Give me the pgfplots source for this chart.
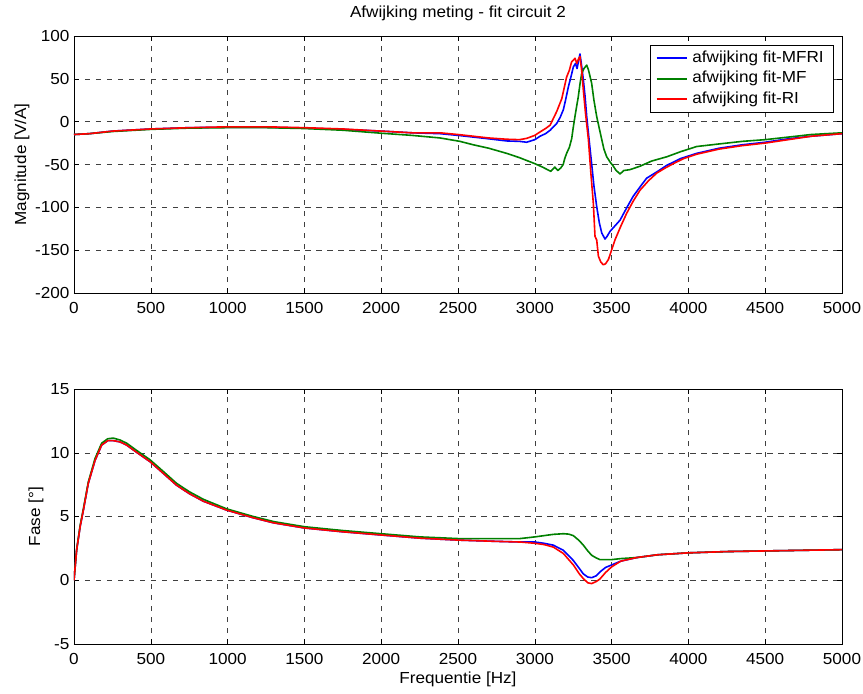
\documentclass[border=0pt]{standalone}
\usepackage{fontspec}
\setmainfont{Liberation Sans}[FakeStretch=1.07]
\usepackage{pgfplots}
\pgfplotsset{compat=1.18}
\definecolor{mblue}{rgb}{0,0,1}
\definecolor{mgreen}{rgb}{0,0.5,0}
\definecolor{mred}{rgb}{1,0,0}
\begin{document}
\fontsize{16}{18}\selectfont
\begin{tikzpicture}
\pgfplotsset{
  every axis/.append style={
    scale only axis, width=768pt,
    xmin=0, xmax=5000, xtick={0,500,...,5000},
    grid=major,
    major grid style={black!75, dash pattern=on 5.5pt off 5.5pt, line width=0.5pt},
    tick align=inside, major tick length=5pt,
    tick style={black, line width=0.5pt},
    axis line style={line width=0.6pt},
    /pgf/number format/assume math mode=true,
    /pgf/number format/1000 sep={},
    scaled x ticks=false, scaled y ticks=false,
    tick label style={font=\fontsize{16}{18}\selectfont},
    xticklabel style={yshift=-4pt},
    yticklabel style={xshift=1pt},
    label style={font=\fontsize{16}{18}\selectfont},
    every axis plot/.append style={line width=1.6pt, line join=round},
  }
}
\begin{axis}[at={(0pt,0pt)}, anchor=north west, height=257pt,
  ymin=-200, ymax=100, ytick={-200,-150,...,100},
  title={Afwijking meting - fit circuit 2},
  title style={at={(axis description cs:0.5,1)}, anchor=base, yshift=12.7pt, font=\fontsize{16}{18}\selectfont},
  ylabel={Magnitude [V/A]},
  ylabel style={at={(axis description cs:-0.0677,0.5)}, anchor=center},
  legend style={at={(axis description cs:0.9896,0.965)}, anchor=north east, draw=black, fill=white,
    font=\fontsize{16}{18}\selectfont, row sep=0pt, inner xsep=5pt, inner ysep=2.75pt, line width=0.6pt,
    nodes={text height=11.5pt, text depth=3.5pt, inner ysep=2.75pt, inner xsep=5pt}},
  legend cell align=left,
  legend image code/.code={\draw[#1, line width=1.8pt] (0pt,0pt) -- (30pt,0pt);},
]
\addplot[mblue] coordinates {
(0,-15) (100,-14) (250,-11) (500,-8.5) (750,-7) (1000,-6.5) (1250,-6.5) (1500,-7.5)
(1750,-9) (2000,-11) (2200,-13) (2383,-14) (2500,-16) (2600,-18) (2700,-20) (2817,-22.5)
(2900,-23) (2947,-24) (3000,-21) (3034,-17) (3070,-14) (3100,-10) (3143,-2) (3165,5)
(3186,14) (3200,25) (3219,41) (3235,52) (3251,64) (3265,68) (3275,62) (3294,79)
(3305,65) (3316,49) (3327,30) (3338,6) (3350,-15) (3370,-49) (3385,-75) (3403,-99)
(3420,-118) (3436,-130) (3457,-137) (3470,-134) (3490,-128) (3510,-124) (3530,-120)
(3555,-115) (3600,-100) (3641,-87) (3690,-75) (3728,-66) (3800,-58) (3859,-51)
(3950,-43) (4054,-37) (4200,-31) (4350,-27) (4500,-24) (4650,-20) (4800,-17) (5000,-14)
};
\addlegendentry{afwijking fit-MFRI}
\addplot[mgreen] coordinates {
(0,-15) (100,-14) (250,-11.5) (500,-9) (750,-7.5) (1000,-7) (1250,-7) (1500,-8)
(1750,-10) (2000,-13.5) (2200,-16) (2383,-19) (2513,-23) (2600,-27) (2700,-31) (2817,-37)
(2900,-42) (3000,-49) (3050,-53) (3104,-58) (3130,-53) (3150,-57) (3169,-54) (3185,-50)
(3195,-43) (3207,-37) (3225,-30) (3240,-20) (3251,-6) (3265,10) (3283,29) (3295,45)
(3305,56) (3320,62) (3338,66) (3350,60) (3370,45) (3385,25) (3403,6) (3420,-8)
(3436,-21) (3450,-32) (3468,-41) (3490,-47) (3511,-52) (3530,-57) (3555,-61) (3580,-57)
(3620,-56) (3685,-52) (3760,-46) (3859,-41) (3950,-35) (4054,-29) (4200,-26) (4350,-23)
(4500,-21) (4650,-18) (4800,-15) (5000,-13)
};
\addlegendentry{afwijking fit-MF}
\addplot[mred] coordinates {
(0,-15) (100,-14) (250,-11) (500,-8.5) (750,-7) (1000,-6) (1250,-6) (1500,-7)
(1750,-8.5) (2000,-11) (2200,-13) (2383,-13) (2500,-15) (2600,-17) (2700,-19) (2817,-20.5)
(2900,-21) (2947,-19.5) (3000,-16) (3034,-12) (3070,-8) (3100,-4) (3143,12) (3176,27)
(3207,52) (3225,60) (3240,70) (3252,72) (3262,74) (3273,68) (3284,73) (3294,76)
(3305,60) (3316,37) (3330,10) (3349,-21) (3365,-60) (3381,-95) (3392,-134) (3403,-138)
(3414,-157) (3430,-164) (3446,-167) (3460,-166) (3479,-161) (3500,-150) (3522,-138)
(3560,-122) (3598,-107) (3640,-93) (3685,-80) (3740,-69) (3794,-60) (3850,-54)
(3902,-49) (3970,-43) (4054,-38) (4200,-32) (4350,-28) (4500,-25) (4650,-21) (4800,-17) (5000,-14)
};
\addlegendentry{afwijking fit-RI}
\end{axis}

\begin{axis}[at={(0pt,-353pt)}, anchor=north west, height=255pt,
  ymin=-5, ymax=15, ytick={-5,0,...,15},
  ylabel={Fase [°]},
  ylabel style={at={(axis description cs:-0.0495,0.5)}, anchor=center},
  xlabel={Frequentie [Hz]},
  xlabel style={at={(axis description cs:0.5,-0.137)}, anchor=center},
]
\addplot[mblue] coordinates {
(0,0) (17,2.35) (40,4.2) (61,5.5) (93,7.6) (137,9.4) (180,10.6) (220,10.95) (256,10.95)
(300,10.85) (343,10.6) (400,10.1) (495,9.3) (580,8.4) (668,7.45) (750,6.8) (842,6.2)
(994,5.5) (1167,4.9) (1300,4.5) (1500,4.1) (1750,3.8) (2000,3.55) (2253,3.3) (2500,3.15)
(2750,3.05) (2904,3.0) (3000,3.0) (3060,2.9) (3121,2.75) (3186,2.35) (3251,1.55)
(3316,0.5) (3345,0.25) (3370,0.2) (3400,0.35) (3424,0.65) (3460,1.0) (3500,1.2)
(3560,1.5) (3663,1.78) (3800,2.0) (4000,2.15) (4250,2.25) (4500,2.3) (4750,2.35) (5000,2.4)
};
\addplot[mgreen] coordinates {
(0,0) (17,2.4) (40,4.3) (61,5.6) (93,7.7) (137,9.55) (180,10.75) (220,11.1) (256,11.15)
(300,11.0) (343,10.75) (400,10.25) (495,9.45) (580,8.55) (668,7.6) (750,6.95) (842,6.35)
(994,5.6) (1167,5.0) (1300,4.6) (1500,4.2) (1750,3.9) (2000,3.65) (2253,3.4) (2500,3.27)
(2750,3.27) (2904,3.27) (3000,3.4) (3060,3.5) (3121,3.6) (3186,3.65) (3220,3.62)
(3251,3.5) (3290,3.1) (3316,2.75) (3345,2.3) (3370,1.96) (3400,1.75) (3424,1.62)
(3500,1.62) (3560,1.7) (3663,1.78) (3800,2.0) (4000,2.15) (4250,2.25) (4500,2.3) (4750,2.35) (5000,2.4)
};
\addplot[mred] coordinates {
(0,0) (17,2.35) (40,4.2) (61,5.5) (93,7.6) (137,9.4) (180,10.6) (220,10.95) (256,10.95)
(300,10.85) (343,10.6) (400,10.1) (495,9.3) (580,8.4) (668,7.45) (750,6.8) (842,6.2)
(994,5.5) (1167,4.9) (1300,4.5) (1500,4.1) (1750,3.8) (2000,3.55) (2253,3.3) (2500,3.15)
(2750,3.05) (2904,3.0) (3000,2.9) (3060,2.8) (3121,2.6) (3186,2.1) (3251,1.2)
(3290,0.5) (3316,0.13) (3345,-0.2) (3370,-0.26) (3400,-0.1) (3424,0.1) (3460,0.6)
(3500,1.05) (3560,1.5) (3663,1.78) (3800,2.0) (4000,2.15) (4250,2.25) (4500,2.3) (4750,2.35) (5000,2.4)
};
\end{axis}
\pgfresetboundingbox
\path (-74pt,36pt) rectangle (789pt,-658pt);
\end{tikzpicture}
\end{document}
